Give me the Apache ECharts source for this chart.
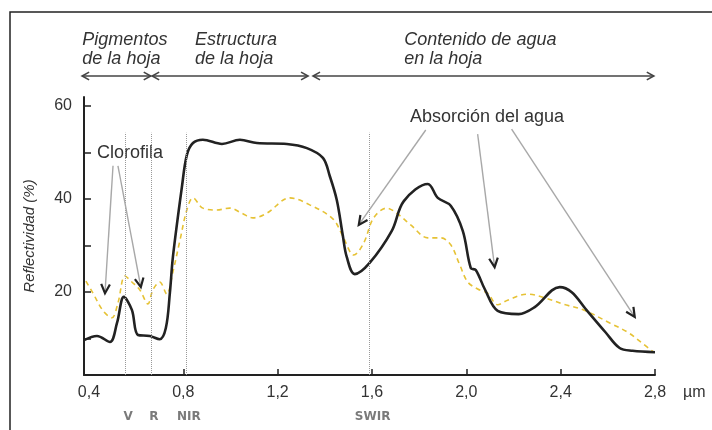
<!DOCTYPE html>
<html>
<head>
<meta charset="utf-8">
<script src="https://cdn.jsdelivr.net/npm/echarts@6/dist/echarts.min.js"></script>
<style>
html,body{margin:0;padding:0;background:#fff;}
#c{width:712px;height:430px;}
</style>
</head>
<body>
<div id="c"></div>
<script>
// Wavelength (µm) and reflectance (%) for the solid black curve
const blackWavelength = [0.379,0.434,0.489,0.519,0.548,0.582,0.608,0.658,0.700,0.726,0.743,0.756,0.794,0.815,0.841,0.883,0.964,1.040,1.112,1.239,1.324,1.392,1.421,1.451,1.476,1.493,1.527,1.590,1.684,1.735,1.837,1.879,1.934,1.985,2.019,2.040,2.078,2.133,2.222,2.290,2.396,2.447,2.506,2.590,2.650,2.705,2.800];
const blackReflectance = [9.6,10.5,9.2,13.3,18.9,16.1,10.7,10.5,9.8,12.2,19.7,27.5,42.5,49.4,52.0,52.7,51.8,52.7,52.0,51.8,50.9,48.8,44.9,39.7,32.2,27.5,23.8,26.2,33.1,39.5,43.2,40.2,38.5,33.1,25.1,24.7,20.6,15.9,15.2,16.7,21.0,19.9,16.3,11.3,7.9,7.3,7.0];
// Wavelength (µm) and reflectance (%) for the dashed yellow curve
const yellowWavelength = [0.387,0.417,0.460,0.497,0.523,0.553,0.582,0.616,0.650,0.671,0.700,0.730,0.756,0.786,0.815,0.841,0.883,0.942,0.997,1.048,1.095,1.154,1.252,1.336,1.434,1.476,1.523,1.565,1.607,1.663,1.705,1.764,1.837,1.892,1.934,1.972,2.006,2.048,2.090,2.133,2.175,2.260,2.332,2.421,2.497,2.608,2.684,2.735,2.794];
const yellowReflectance = [22.3,19.7,15.9,14.4,17.6,23.4,22.1,20.4,17.4,20.4,22.1,19.5,24.3,31.1,37.6,40.2,38.0,37.6,38.0,36.9,35.9,36.9,40.2,38.7,35.7,32.0,27.9,30.5,35.9,38.0,36.9,34.4,31.6,31.6,30.1,25.8,22.1,20.6,19.7,17.2,18.2,19.5,18.7,17.2,16.1,13.3,11.3,9.4,7.0];
// Axis ticks and labels
const xTickLabels = [0.4,0.8,1.2,1.6,2.0,2.4,2.8];
const yTicks = [10,20,30,40,50,60];
const yTickLabels = [20,40,60];
// Spectral band guide lines
const bandNames = ['V','R','NIR','SWIR'];
const bandPositions = [0.553,0.663,0.811,1.59];
// Header regions
const regionTitles = ['Pigmentos\nde la hoja','Estructura\nde la hoja','Contenido de agua\nen la hoja'];
const regionRanges = [[0.371,0.662],[0.668,1.329],[1.35,2.795]];
// Annotation arrows [start, tip] in data coordinates
const clorofilaArrows = [[[0.502,47.1],[0.468,19.7]],[[0.523,47.1],[0.62,21.0]]];
const aguaArrows = [[[1.828,54.8],[1.544,34.4]],[[2.048,53.9],[2.12,25.3]],[[2.192,55.0],[2.714,14.6]]];

const Y_MIN = 2.1, Y_MAX = 61.9, X_MIN = 0.379, X_MAX = 2.8;
const FONT = '"Liberation Sans", Arial, sans-serif';

const chart = echarts.init(document.getElementById('c'), null, {renderer:'canvas'});
const zip = (a,b) => a.map((v,i)=>[v,b[i]]);

chart.setOption({
  animation:false,
  backgroundColor:'#fff',
  grid:{left:84,right:57,top:97,bottom:55},
  xAxis:{
    type:'value',min:X_MIN,max:X_MAX,
    axisLine:{show:true,onZero:false,lineStyle:{color:'#222',width:2}},
    axisTick:{show:true,inside:true,length:6,customValues:xTickLabels.slice(1),lineStyle:{color:'#222',width:1.5}},
    axisLabel:{customValues:xTickLabels,formatter:v=>Number(v).toFixed(1).replace('.',','),color:'#333',fontSize:16,fontFamily:FONT,margin:10},
    splitLine:{show:false}
  },
  yAxis:{
    type:'value',min:Y_MIN,max:Y_MAX,
    axisLine:{show:true,onZero:false,lineStyle:{color:'#222',width:2}},
    axisTick:{show:true,inside:true,length:7,customValues:yTicks,lineStyle:{color:'#222',width:1.5}},
    axisLabel:{customValues:yTickLabels,color:'#333',fontSize:16,fontFamily:FONT,margin:12},
    splitLine:{show:false}
  },
  series:[
    {
      type:'line',data:zip(yellowWavelength,yellowReflectance),smooth:0.35,showSymbol:false,
      lineStyle:{color:'#e6c235',width:1.6,type:[5,4]},z:2
    },
    {
      type:'line',data:zip(blackWavelength,blackReflectance),smooth:0.35,showSymbol:false,
      lineStyle:{color:'#222',width:2.6},z:3,
      markLine:{
        silent:true,symbol:['none','none'],label:{show:false},
        lineStyle:{type:'dotted',color:'#999',width:1},
        data:bandPositions.map(x=>[{coord:[x,Y_MIN]},{coord:[x,54.2]}])
      }
    }
  ]
});

function px(p){ return chart.convertToPixel({gridIndex:0},p); }

function chevron(tip, from, len, ang){
  const dx = tip[0]-from[0], dy = tip[1]-from[1];
  const L = Math.hypot(dx,dy), ux = dx/L, uy = dy/L;
  const c = Math.cos(ang), s = Math.sin(ang);
  const a1 = [tip[0]-len*(ux*c-uy*s), tip[1]-len*(uy*c+ux*s)];
  const a2 = [tip[0]-len*(ux*c+uy*s), tip[1]-len*(uy*c-ux*s)];
  return [a1,tip,a2];
}

const g = [];
// frame
g.push({type:'rect',shape:{x:10,y:12,width:760,height:480},style:{fill:null,stroke:'#222',lineWidth:1.5},silent:true});
// y axis title
g.push({type:'text',x:30,y:236,rotation:Math.PI/2,style:{text:'Reflectividad (%)',align:'center',verticalAlign:'middle',font:'italic 15px '+FONT,fill:'#333'}});
// unit
g.push({type:'text',x:683,y:393,style:{text:'µm',verticalAlign:'middle',font:'16px '+FONT,fill:'#333'}});
// header regions
regionRanges.forEach((r,i)=>{
  const x1 = px([r[0],Y_MIN])[0], x2 = px([r[1],Y_MIN])[0];
  const y = 76;
  g.push({type:'line',shape:{x1:x1,y1:y,x2:x2,y2:y},style:{stroke:'#444',lineWidth:1.5}});
  g.push({type:'polyline',shape:{points:chevron([x1,y],[x2,y],8,0.5)},style:{stroke:'#444',lineWidth:1.6,fill:null}});
  g.push({type:'polyline',shape:{points:chevron([x2,y],[x1,y],8,0.5)},style:{stroke:'#444',lineWidth:1.6,fill:null}});
});
const titleLeft = [0.372,0.85,1.737];
regionTitles.forEach((t,i)=>{
  g.push({type:'text',x:px([titleLeft[i],Y_MIN])[0],y:49,style:{text:t,verticalAlign:'middle',font:'italic 18px '+FONT,lineHeight:19,fill:'#333'}});
});
// band labels
bandNames.forEach((n,i)=>{
  g.push({type:'text',x:px([bandPositions[i],Y_MIN])[0]+3,y:417,style:{text:n,align:'center',verticalAlign:'middle',font:'bold 12px "DejaVu Sans", Verdana, sans-serif',fill:'#7a7a7a'}});
});
// annotations
g.push({type:'text',x:97,y:153,style:{text:'Clorofila',verticalAlign:'middle',font:'18px '+FONT,fill:'#333'}});
g.push({type:'text',x:410,y:117,style:{text:'Absorción del agua',verticalAlign:'middle',font:'18px '+FONT,fill:'#333'}});
clorofilaArrows.concat(aguaArrows).forEach(a=>{
  const s = px(a[0]), t = px(a[1]);
  g.push({type:'line',shape:{x1:s[0],y1:s[1],x2:t[0],y2:t[1]},style:{stroke:'#a8a8a8',lineWidth:1.4},z:10});
  g.push({type:'polyline',shape:{points:chevron(t,s,10,0.45)},style:{stroke:'#222',lineWidth:2.2,fill:null},z:11});
});
chart.setOption({graphic:{elements:g}});
</script>
</body>
</html>
